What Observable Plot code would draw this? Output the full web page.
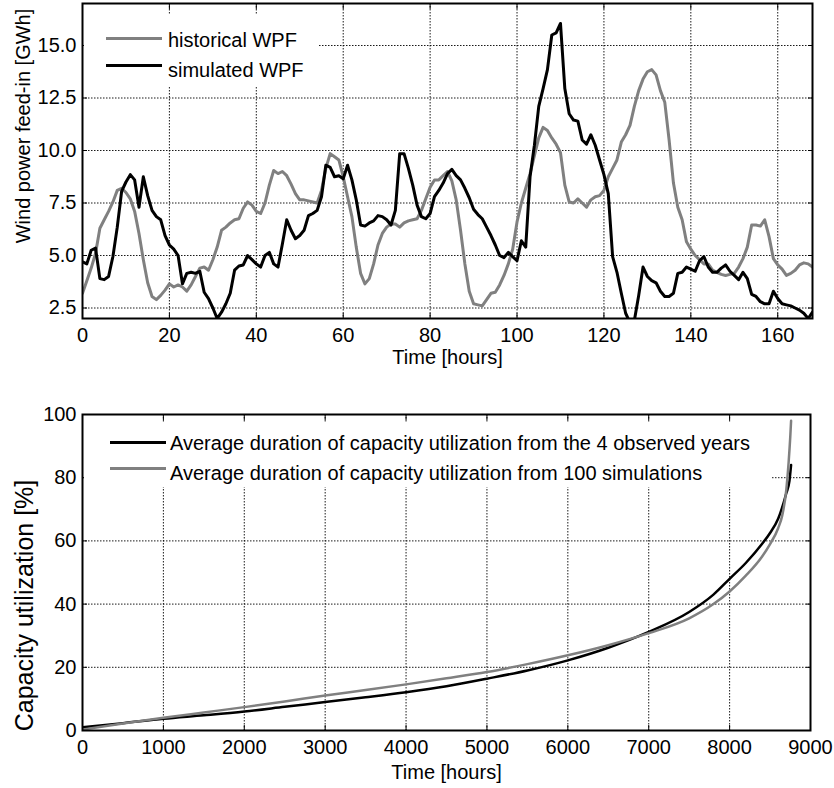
<!DOCTYPE html>
<html><head><meta charset="utf-8">
<script src="https://cdn.jsdelivr.net/npm/d3@7"></script>
<script src="https://cdn.jsdelivr.net/npm/@observablehq/plot@0.6"></script>
<style>
body{margin:0;background:#fff;font-family:"Liberation Sans",Arial,sans-serif;}
#wrap{position:relative;width:834px;height:788px;overflow:hidden;background:#fff;}
.panel{position:absolute;left:0;}
.legend{position:absolute;background:#fff;}
.item{position:absolute;font-size:20px;line-height:20px;white-space:nowrap;color:#000;}
.swatch{position:absolute;height:3px;width:56px;}
</style></head><body>
<div id="wrap">
  <div id="topPanel" class="panel" style="top:0"></div>
  <div id="bottomPanel" class="panel" style="top:370px"></div>
  <div class="legend" style="left:84px;top:15px;width:234px;height:71px">
    <div class="swatch" style="left:22px;top:21.5px;background:#808080"></div>
    <div class="item" style="left:84px;top:15px">historical WPF</div>
    <div class="swatch" style="left:22px;top:48.5px;background:#000"></div>
    <div class="item" style="left:84px;top:45px">simulated WPF</div>
  </div>
  <div class="legend" style="left:84px;top:423px;width:688px;height:64px">
    <div class="swatch" style="left:26px;top:17.5px;background:#000"></div>
    <div class="item" style="left:86px;top:10px">Average duration of capacity utilization from the 4 observed years</div>
    <div class="swatch" style="left:26px;top:43.5px;background:#808080"></div>
    <div class="item" style="left:86px;top:40px">Average duration of capacity utilization from 100 simulations</div>
  </div>
</div>
<script>
// ---- Top panel data (hourly, 0..168) ----
const hours = d3.range(0, 169);
const historical = [3.2,3.8,4.4,5.1,6.3,6.7,7.1,7.55,8.1,8.2,8.0,7.7,7.1,6.05,4.8,3.7,3.05,2.9,3.1,3.35,
3.65,3.5,3.6,3.5,3.3,3.6,4.0,4.4,4.45,4.3,4.8,5.4,6.2,6.35,6.55,6.7,6.75,7.25,7.55,7.4,
7.1,7.0,7.5,8.35,9.05,8.9,9.0,8.8,8.4,7.95,7.65,7.65,7.6,7.55,7.5,8.1,9.15,9.85,9.7,9.55,
8.75,7.8,6.85,5.4,4.15,3.65,3.9,4.6,5.5,6.05,6.35,6.5,6.5,6.35,6.55,6.65,6.7,6.75,7.15,7.7,
8.25,8.6,8.6,8.8,9.0,8.55,7.65,6.2,4.6,3.3,2.7,2.65,2.6,2.9,3.2,3.25,3.6,4.05,4.6,5.3,
6.6,7.5,8.2,8.9,9.75,10.6,11.1,10.95,10.6,10.3,9.9,8.35,7.55,7.5,7.7,7.5,7.3,7.65,7.8,7.85,
8.1,8.75,9.15,9.55,10.4,10.75,11.2,12.1,12.85,13.4,13.75,13.85,13.6,12.85,12.3,10.5,8.45,7.3,6.7,5.65,
5.3,5.0,4.8,4.6,4.6,4.3,4.2,4.1,4.05,4.1,4.15,4.45,4.85,5.4,6.45,6.45,6.4,6.7,5.9,4.85,
4.55,4.35,4.05,4.15,4.3,4.55,4.65,4.6,4.45];
const simulated = [4.7,4.6,5.25,5.35,3.9,3.85,4.0,4.95,6.35,8.05,8.5,8.85,8.6,7.3,8.75,7.85,7.15,6.85,6.7,5.95,
5.5,5.3,5.0,3.65,4.15,4.2,4.15,4.25,3.25,2.95,2.5,2.0,2.3,2.7,3.2,4.3,4.5,4.55,5.0,4.8,
4.6,4.45,5.0,5.15,4.6,4.45,5.55,6.7,6.2,5.8,5.95,6.2,6.9,7.0,7.15,7.8,9.3,9.2,8.75,8.8,
8.65,9.3,8.6,7.65,6.45,6.4,6.55,6.65,6.9,6.85,6.7,6.45,7.15,9.85,9.85,9.15,8.35,7.4,6.85,6.75,
7.0,7.8,8.1,8.45,8.9,9.1,8.8,8.6,8.2,7.75,7.2,6.95,6.75,6.35,5.95,5.5,5.0,4.9,5.15,4.95,
4.75,5.7,5.4,8.75,10.25,12.1,12.95,13.85,15.5,15.6,16.05,12.95,11.75,11.45,11.4,10.5,10.3,10.75,10.25,9.55,
8.85,7.95,4.95,4.2,3.2,2.25,1.8,1.9,3.1,4.45,4.0,3.8,3.7,3.3,3.05,3.05,3.2,4.15,4.2,4.45,
4.35,4.25,4.75,4.95,4.45,4.2,4.2,4.4,4.55,4.25,4.05,3.85,4.2,3.9,3.15,3.05,2.8,2.7,2.7,3.3,
2.95,2.7,2.65,2.6,2.5,2.4,2.25,2.0,2.3];
const topXTicks = [0,20,40,60,80,100,120,140,160];
const topYTicks = [2.5,5,7.5,10,12.5,15];

// ---- Bottom panel data (duration curves) ----
const obsHours = [0,500,1000,1500,2000,2500,3000,3500,4000,4500,5000,5500,6000,6500,7000,7500,7800,8000,8200,8400,8500,8600,8700,8740,8760];
const observedDur = [1.0,2.3,3.7,4.8,6.0,7.5,9.0,10.5,12.1,14.0,16.4,19.0,22.2,26.2,31.2,37.5,43,48,53,59,62.5,67,75,79,84];
const simHours = [0,500,1000,1500,2000,2500,3000,3500,4000,4500,5000,5500,6000,6500,7000,7500,7800,8000,8200,8400,8500,8600,8650,8700,8730,8750,8760];
const simulatedDur = [0.3,2.2,4.0,5.7,7.4,9.2,11.1,12.8,14.6,16.5,18.5,21.0,23.8,27.0,30.8,35.5,40,44,49,55,59,64,68,76,85,93,98];
const botXTicks = [0,1000,2000,3000,4000,5000,6000,7000,8000,9000];
const botYTicks = [0,20,40,60,80,100];

const style = {fontFamily:'"Liberation Sans", Arial, sans-serif', fontSize:"20px", color:"#000", background:"transparent", overflow:"visible"};
const grid = {stroke:"#000", strokeOpacity:0.9, strokeDasharray:"1.5,1.5", strokeWidth:1};
const inward = {tickSize:-5, tickFormat:() => "", label:null, stroke:"#000", strokeWidth:1};
const labelText = {text:d => d, textAnchor:"middle", lineAnchor:"middle", fontSize:20, fill:"#000"};

function frameTicks(xt, yt) {
  return [
    Plot.axisX({ticks:xt, anchor:"bottom", ...inward}),
    Plot.axisX({ticks:xt, anchor:"top", ...inward}),
    Plot.axisY({ticks:yt, anchor:"left", ...inward}),
    Plot.axisY({ticks:yt, anchor:"right", ...inward})
  ];
}

const topPlot = Plot.plot({
  width:834, height:370, marginTop:3, marginBottom:52, marginLeft:82, marginRight:22,
  style,
  x:{domain:[0,168]},
  y:{domain:[2,17]},
  marks:[
    Plot.gridX(topXTicks, grid),
    Plot.gridY(topYTicks, grid),
    ...frameTicks(topXTicks, topYTicks),
    Plot.axisX({ticks:topXTicks, anchor:"bottom", tickSize:0, tickPadding:9, label:null}),
    Plot.axisY({ticks:topYTicks, anchor:"left", tickSize:0, tickPadding:6, tickFormat:d3.format(".1f"), label:null}),
    Plot.lineY(historical, {x:(d,i) => hours[i], y:d => d, stroke:"#808080", strokeWidth:3, clip:true}),
    Plot.lineY(simulated, {x:(d,i) => hours[i], y:d => d, stroke:"#000", strokeWidth:3, clip:true}),
    Plot.frame({stroke:"#000", strokeWidth:2}),
    Plot.text(["Time [hours]"], {...labelText, frameAnchor:"bottom", dy:39}),
    Plot.text(["Wind power feed-in [GWh]"], {...labelText, frameAnchor:"left", rotate:-90, dx:-59, dy:-35})
  ]
});
document.getElementById("topPanel").append(topPlot);

const bottomPlot = Plot.plot({
  width:834, height:418, marginTop:44, marginBottom:58, marginLeft:82, marginRight:24,
  style,
  x:{domain:[0,9000]},
  y:{domain:[0,100]},
  marks:[
    Plot.gridX(botXTicks, grid),
    Plot.gridY(botYTicks, grid),
    ...frameTicks(botXTicks, botYTicks),
    Plot.axisX({ticks:botXTicks, anchor:"bottom", tickSize:0, tickPadding:9, tickFormat:d3.format("d"), label:null}),
    Plot.axisY({ticks:botYTicks, anchor:"left", tickSize:0, tickPadding:6, tickFormat:d3.format("d"), label:null}),
    Plot.line(observedDur, {x:(d,i) => obsHours[i], y:d => d, stroke:"#000", strokeWidth:2.5, curve:"monotone-x", clip:true}),
    Plot.line(simulatedDur, {x:(d,i) => simHours[i], y:d => d, stroke:"#808080", strokeWidth:2.5, curve:"monotone-x", clip:true}),
    Plot.frame({stroke:"#000", strokeWidth:2}),
    Plot.text(["Time [hours]"], {...labelText, frameAnchor:"bottom", dy:42}),
    Plot.text(["Capacity utilization [%]"], {...labelText, fontSize:25, frameAnchor:"left", rotate:-90, dx:-58, dy:33})
  ]
});
document.getElementById("bottomPanel").append(bottomPlot);
</script>
</body></html>
